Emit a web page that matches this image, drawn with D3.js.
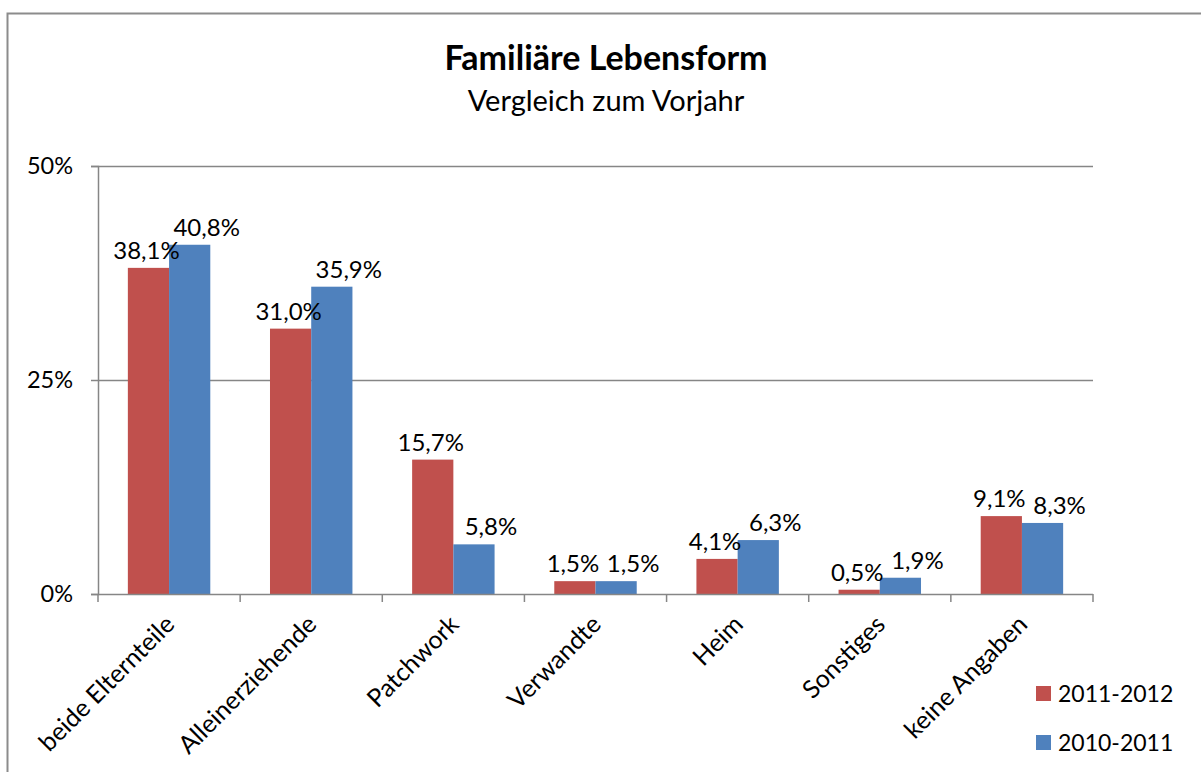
<!DOCTYPE html>
<html>
<head>
<meta charset="utf-8">
<script src="https://cdnjs.cloudflare.com/ajax/libs/d3/7.8.5/d3.min.js"></script>
<style>
  body { margin: 0; background: #fff; }
  svg { display: block; font-family: Lato, "Open Sans", sans-serif; }
</style>
</head>
<body>
<div id="chart"></div>
<script>
// chart data
var categories = ["beide Elternteile", "Alleinerziehende", "Patchwork", "Verwandte", "Heim", "Sonstiges", "keine Angaben"];
var seriesNames = ["2011-2012", "2010-2011"];
var values2011 = [38.1, 31.0, 15.7, 1.5, 4.1, 0.5, 9.1];
var values2010 = [40.8, 35.9, 5.8, 1.5, 6.3, 1.9, 8.3];
var yTicks = [0, 25, 50];

var colors = ["#C0504D", "#4F81BD"];
var width = 1201, height = 772;
var margin = {top: 166, right: 108, bottom: 178, left: 98};

var svg = d3.select("#chart").append("svg")
    .attr("width", width)
    .attr("height", height);

// outer chart frame
svg.append("rect")
    .attr("x", 7.5).attr("y", 13.5)
    .attr("width", 1200).attr("height", 800)
    .attr("fill", "none")
    .attr("stroke", "#8c8c8c")
    .attr("stroke-width", 2);

var plotW = width - margin.left - margin.right;
var plotH = height - margin.top - margin.bottom;

var g = svg.append("g")
    .attr("transform", "translate(" + margin.left + "," + margin.top + ")");

var x0 = d3.scaleBand().domain(categories).range([0, plotW]).paddingInner(0.42).paddingOuter(0.21);
var x1 = d3.scaleBand().domain(seriesNames).range([0, x0.bandwidth()]);
var y = d3.scaleLinear().domain([0, 50]).range([plotH, 0]);

// gridlines
g.selectAll(".grid").data(yTicks.filter(d => d > 0)).enter().append("line")
    .attr("class", "grid")
    .attr("x1", 0).attr("x2", plotW)
    .attr("y1", d => Math.round(y(d)) + 0.5).attr("y2", d => Math.round(y(d)) + 0.5)
    .attr("stroke", "#868686").attr("stroke-width", 1.5);

// y axis
var yAxis = g.append("g")
    .call(d3.axisLeft(y).tickValues(yTicks).tickFormat(d => d + "%").tickSize(7).tickPadding(18));
yAxis.select(".domain").attr("stroke", "#868686").attr("stroke-width", 1.5);
yAxis.selectAll(".tick line").attr("stroke", "#868686").attr("stroke-width", 1.5);
yAxis.selectAll("text").attr("font-size", 23.5).attr("fill", "#000").attr("font-family", "Lato, sans-serif");

// bars
var rows = categories.map((c, i) => ({cat: c, vals: [values2011[i], values2010[i]]}));
var groups = g.selectAll(".cat").data(rows).enter().append("g")
    .attr("class", "cat")
    .attr("transform", d => "translate(" + x0(d.cat) + ",0)");

groups.selectAll("rect").data(d => d.vals.map((v, i) => ({s: seriesNames[i], v: v, i: i})))
    .enter().append("rect")
    .attr("x", d => x1(d.s))
    .attr("width", x1.bandwidth())
    .attr("y", d => y(d.v))
    .attr("height", d => plotH - y(d.v))
    .attr("fill", d => colors[d.i]);

// value labels
var fmt = v => v.toFixed(1).replace(".", ",") + "%";
groups.selectAll(".val").data(d => d.vals.map((v, i) => ({s: seriesNames[i], v: v, i: i})))
    .enter().append("text")
    .attr("class", "val")
    .attr("x", d => x1(d.s) + x1.bandwidth() / 2 + (d.i == 1 ? 17 : -2))
    .attr("y", d => y(d.v) - 9)
    .attr("text-anchor", "middle")
    .attr("font-size", 24)
    .text(d => fmt(d.v));

// x axis
var xAxis = g.append("g")
    .attr("transform", "translate(0," + plotH + ")");
xAxis.append("line")
    .attr("x1", 0).attr("x2", plotW).attr("y1", 0.5).attr("y2", 0.5)
    .attr("stroke", "#868686").attr("stroke-width", 1.5);
var step = plotW / categories.length;
xAxis.selectAll(".xtick").data(d3.range(categories.length + 1)).enter().append("line")
    .attr("x1", d => d * step).attr("x2", d => d * step)
    .attr("y1", 0).attr("y2", 8)
    .attr("stroke", "#868686").attr("stroke-width", 1.5);
xAxis.selectAll(".xlab").data(categories).enter().append("text")
    .attr("text-anchor", "end")
    .attr("font-size", 25)
    .attr("transform", d => "translate(" + (x0(d) + x0.bandwidth() / 2 + 7) + ",32) rotate(-45)")
    .text(d => d);

// title
svg.append("text")
    .attr("x", 606).attr("y", 70)
    .attr("text-anchor", "middle")
    .attr("font-size", 34).attr("font-weight", "bold")
    .text("Familiäre Lebensform");
svg.append("text")
    .attr("x", 606).attr("y", 111)
    .attr("text-anchor", "middle")
    .attr("font-size", 29)
    .text("Vergleich zum Vorjahr");

// legend
var legend = svg.append("g").attr("transform", "translate(1036,686)");
var items = legend.selectAll("g").data(seriesNames).enter().append("g")
    .attr("transform", (d, i) => "translate(0," + (i * 49) + ")");
items.append("rect").attr("width", 15).attr("height", 15).attr("fill", (d, i) => colors[i]);
items.append("text").attr("x", 22).attr("y", 16).attr("font-size", 23).text(d => d);
</script>
</body>
</html>
